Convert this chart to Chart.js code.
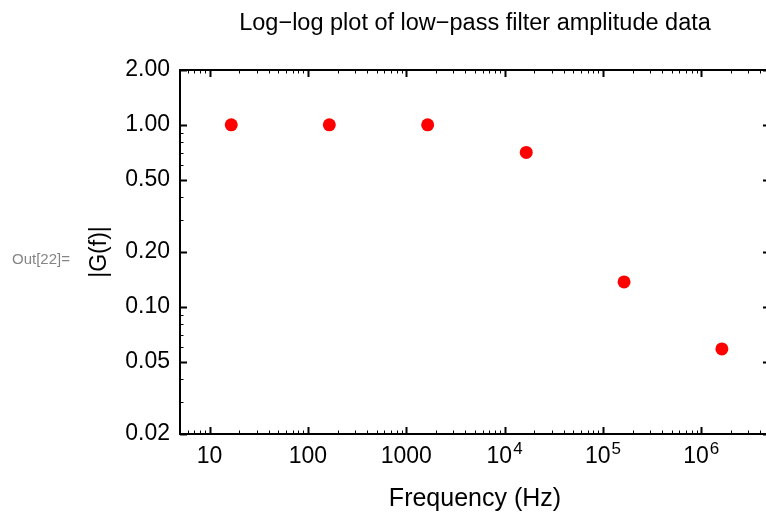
<!DOCTYPE html>
<html>
<head>
<meta charset="utf-8">
<script src="https://cdn.jsdelivr.net/npm/chart.js@4.4.1/dist/chart.umd.min.js"></script>
<style>
    html, body { margin: 0; padding: 0; background: #fff; overflow: hidden; }
    #wrap { position: relative; width: 766px; height: 512px; overflow: hidden; }
    #bode { position: absolute; left: 0; top: 0; }
    #outLabel { position: absolute; left: 12px; top: 250px; font: 15px "Liberation Sans", Arial, sans-serif; color: #858585; }
</style>
</head>
<body>
<div id="wrap">
    <canvas id="bode" width="780" height="512"></canvas>
    <div id="outLabel">Out[22]=</div>
</div>
<script>
const frequencies = [16.6, 165, 1650, 16600, 164000, 1620000];
const amplitudes = [1.0, 1.0, 1.0, 0.705, 0.137, 0.0587];

const xTickValues = [10, 100, 1000, 1e4, 1e5, 1e6];
const xTickLabels = ['10', '100', '1000', '10^4', '10^5', '10^6'];
const yTickValues = [0.02, 0.05, 0.1, 0.2, 0.5, 1, 2];
const yTickLabels = ['0.02', '0.05', '0.10', '0.20', '0.50', '1.00', '2.00'];

const xRange = [5, 5e6];
const yRange = [0.02, 2];

const FONT = '"Liberation Sans", Arial, sans-serif';

function isMajor(v, majors) {
    return majors.some(m => Math.abs(m - v) / m < 1e-6);
}

// minor ticks at every k*10^n inside the range that is not a major tick
function minorTicks(range, majors) {
    const out = [];
    const d0 = Math.floor(Math.log10(range[0]));
    const d1 = Math.ceil(Math.log10(range[1]));
    for (let d = d0; d <= d1; d++) {
        for (let k = 1; k <= 9; k++) {
            const v = parseFloat((k * Math.pow(10, d)).toPrecision(6));
            if (v < range[0] * 0.9999 || v > range[1] * 1.0001) continue;
            if (!isMajor(v, majors)) out.push(v);
        }
    }
    return out;
}

const framePlugin = {
    id: 'frame',
    afterDraw(chart) {
        const ctx = chart.ctx;
        const a = chart.chartArea;
        const xs = chart.scales.x;
        const ys = chart.scales.y;
        ctx.save();
        ctx.strokeStyle = '#000';

        // inward ticks on all four sides
        const drawX = (vals, len, w) => {
            ctx.lineWidth = w;
            vals.forEach(v => {
                const px = Math.round(xs.getPixelForValue(v)) + 0.5;
                ctx.beginPath();
                ctx.moveTo(px, a.bottom); ctx.lineTo(px, a.bottom - len);
                ctx.moveTo(px, a.top); ctx.lineTo(px, a.top + len);
                ctx.stroke();
            });
        };
        const drawY = (vals, len, w) => {
            ctx.lineWidth = w;
            vals.forEach(v => {
                const py = Math.round(ys.getPixelForValue(v)) + 0.5;
                ctx.beginPath();
                ctx.moveTo(a.left, py); ctx.lineTo(a.left + len, py);
                ctx.moveTo(a.right, py); ctx.lineTo(a.right - len, py);
                ctx.stroke();
            });
        };
        drawX(xTickValues, 7, 2);
        drawX(minorTicks(xRange, xTickValues), 3.5, 1);
        drawY(yTickValues, 7, 2);
        drawY(minorTicks(yRange, yTickValues), 3.5, 1);

        ctx.lineWidth = 2;
        ctx.strokeRect(a.left, a.top, a.right - a.left, a.bottom - a.top);

        // x tick labels, with raised exponents for the powers of ten
        ctx.fillStyle = '#000';
        ctx.textBaseline = 'alphabetic';
        ctx.textAlign = 'left';
        const baseFont = '23px ' + FONT;
        const supFont = '17px ' + FONT;
        const baseY = a.bottom + 29;
        xTickValues.forEach((v, i) => {
            const [base, exp] = xTickLabels[i].split('^');
            ctx.font = baseFont;
            const wb = ctx.measureText(base).width;
            let we = 0;
            if (exp) { ctx.font = supFont; we = ctx.measureText(exp).width + 1; }
            const x0 = xs.getPixelForValue(v) - (wb + we) / 2;
            ctx.font = baseFont;
            ctx.fillText(base, x0, baseY);
            if (exp) {
                ctx.font = supFont;
                ctx.fillText(exp, x0 + wb + 1, baseY - 9);
            }
        });
        ctx.restore();
    }
};

const points = frequencies.map((f, i) => ({ x: f, y: amplitudes[i] }));

new Chart(document.getElementById('bode'), {
    type: 'scatter',
    data: {
        datasets: [{
            data: points,
            backgroundColor: '#ff0000',
            borderWidth: 0,
            pointRadius: 6.5,
            pointHoverRadius: 6.5
        }]
    },
    options: {
        responsive: false,
        animation: false,
        layout: { padding: { left: 0, right: 10, top: 0, bottom: 0 } },
        plugins: {
            legend: { display: false },
            tooltip: { enabled: false },
            title: {
                display: true,
                fullSize: false,
                text: 'Log−log plot of low−pass filter amplitude data',
                color: '#000',
                font: { family: FONT, size: 23.5, weight: 'normal', lineHeight: 1 },
                padding: { top: 12, bottom: 34.5 }
            }
        },
        scales: {
            x: {
                type: 'logarithmic',
                min: xRange[0],
                max: xRange[1],
                grid: { display: false, drawTicks: false },
                border: { display: false },
                afterBuildTicks: s => { s.ticks = xTickValues.map(v => ({ value: v })); },
                afterFit: s => { s.height = 78; },
                ticks: { display: false },
                title: {
                    display: true,
                    text: 'Frequency (Hz)',
                    color: '#000',
                    font: { family: FONT, size: 25, lineHeight: 1 },
                    padding: { top: 0, bottom: 0 }
                }
            },
            y: {
                type: 'logarithmic',
                min: yRange[0],
                max: yRange[1],
                grid: { display: false, drawTicks: false },
                border: { display: false },
                afterBuildTicks: s => { s.ticks = yTickValues.map(v => ({ value: v })); },
                afterFit: s => { s.width = 180; },
                ticks: {
                    autoSkip: false,
                    padding: 10,
                    color: '#000',
                    font: { family: FONT, size: 23 },
                    callback: v => yTickLabels[yTickValues.findIndex(t => Math.abs(t - v) / t < 1e-6)]
                },
                title: {
                    display: true,
                    text: '|G(f)|',
                    color: '#000',
                    font: { family: FONT, size: 23, lineHeight: 1 },
                    padding: { top: 88.5, bottom: 0 }
                }
            }
        }
    },
    plugins: [framePlugin]
});
</script>
</body>
</html>
